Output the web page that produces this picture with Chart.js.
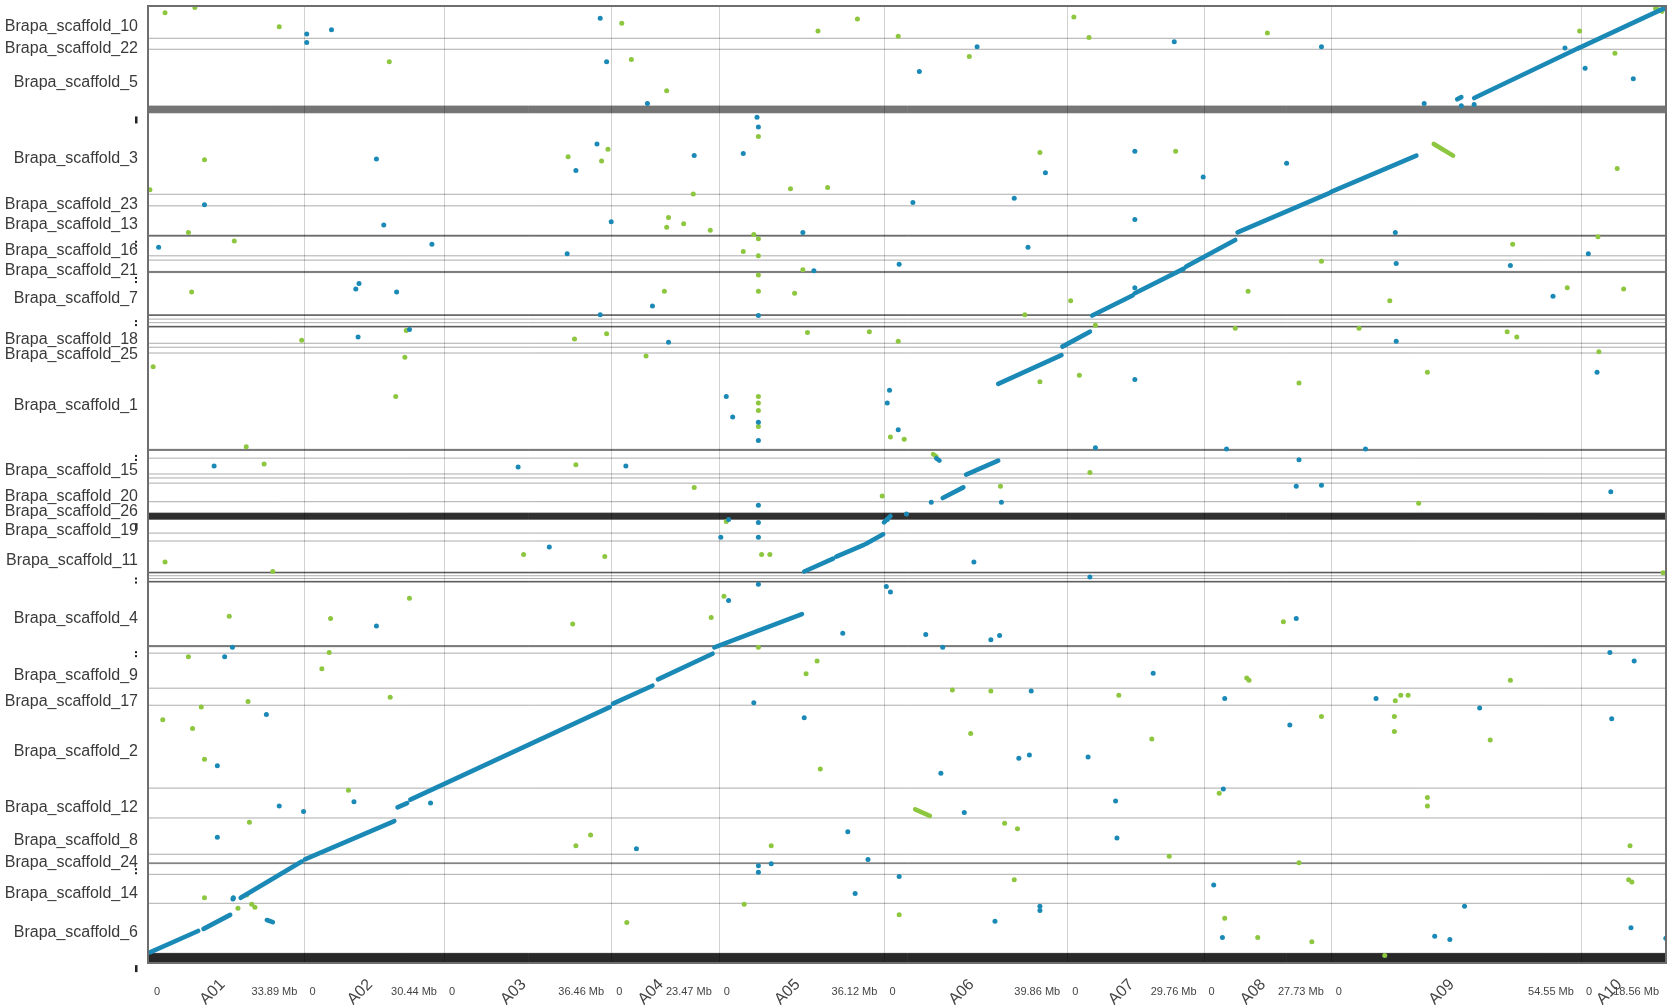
<!DOCTYPE html>
<html><head><meta charset="utf-8">
<script src="https://cdn.jsdelivr.net/npm/chart.js@4.4.1/dist/chart.umd.min.js"></script>
<style>html,body{margin:0;padding:0;background:#fff;overflow:hidden}#wrap{width:1672px;height:1005px;position:relative}</style>
</head><body><div id="wrap"><canvas id="c"></canvas></div>
<script>
// ---- x axis: chromosomes (Mb) ----
const chromNames = ['A01','A02','A03','A04','A05','A06','A07','A08','A09','A10'];
const chromLengths = [33.89,30.44,36.46,23.47,36.12,39.86,29.76,27.73,54.55,18.56];
const chromEndLabels = ['33.89 Mb','30.44 Mb','36.46 Mb','23.47 Mb','36.12 Mb','39.86 Mb','29.76 Mb','27.73 Mb','54.55 Mb','18.56 Mb'];

// ---- y axis: scaffolds, top to bottom (Mb); pieces>1 = cluster of tiny scaffolds ----
const scaffoldNames = ['Brapa_scaffold_10','Brapa_scaffold_22','Brapa_scaffold_5','','Brapa_scaffold_3','Brapa_scaffold_23','Brapa_scaffold_13','','Brapa_scaffold_16','','Brapa_scaffold_21','','Brapa_scaffold_7','','','','Brapa_scaffold_18','','Brapa_scaffold_25','Brapa_scaffold_1','','','Brapa_scaffold_15','','','Brapa_scaffold_20','Brapa_scaffold_26','','Brapa_scaffold_19','','Brapa_scaffold_11','','','','Brapa_scaffold_4','','','Brapa_scaffold_9','Brapa_scaffold_17','Brapa_scaffold_2','Brapa_scaffold_12','Brapa_scaffold_8','Brapa_scaffold_24','','','Brapa_scaffold_14','Brapa_scaffold_6',''];
const scaffoldLengths = [10.6,3.6,18.6,2.3,26.7,3.8,9.6,0.4,6.4,1.4,3.7,0.4,13.8,0.3,3.5,0.3,5.3,1.3,1.9,31.6,0.4,2.5,5.2,1.3,1.7,6.1,3.7,2.1,4.5,2.6,10.2,0.3,2.7,0.3,20.8,0.4,2.1,11.5,5.6,27.2,9.8,11.9,2.8,0.3,3.5,9.5,16.4,3.2];
const scaffoldPieces = [1,1,1,15,1,1,1,3,1,1,1,3,1,3,3,3,1,1,1,1,3,1,1,1,1,1,1,30,1,1,1,3,3,3,1,3,1,1,1,1,1,1,1,2,1,1,1,50];

// ---- synteny blocks (x Mb, y Mb) ----
const diagBlue = [
 [0.2,310.6,10.7,303.6],[11.9,302.9,17.7,298.3],[20.0,292.7,33.3,280.8],[25.7,300.0,27.0,300.7],
 [34.0,280.1,53.5,267.5],[54.2,263.0,56.3,261.6],[57.0,260.5,100.5,230.1],[101.2,229.0,109.8,223.1],
 [111.0,221.0,122.9,212.6],[123.3,210.5,142.4,199.6],[142.9,185.6,149.2,181.4],[149.9,180.7,155.9,176.9],
 [156.4,176.5,160.1,173.4],[160.3,169.5,161.7,167.4],[171.7,148.5,172.4,149.2],[173.1,161.5,177.6,158.0],
 [178.2,153.8,185.2,149.2],[185.2,124.0,199.0,114.6],[199.2,111.8,205.2,106.9],[205.7,101.6,214.5,95.0],
 [215.0,94.3,225.7,86.2],[226.2,85.5,236.9,76.8],[237.4,74.3,257.4,61.4],[257.8,61.0,276.4,49.1],
 [285.3,30.6,286.2,29.9],[289.0,30.2,311.8,13.8],[311.8,13.8,330.4,0.8]
];
const diagGreen = [[280.2,45.3,284.4,49.1],[171.0,147.1,171.7,147.8],[328.6,0.8,330.0,1.8],[167.1,263.7,170.3,265.8]];

const dotsBlue = [
 [34.4,9.2],[34.4,12.0],[39.8,7.8],[98.4,4.0],[99.8,18.3],[108.7,32.0],[168.0,21.5],[180.6,13.4],[223.6,11.7],[255.7,13.4],
 [278.1,32.0],[286.2,32.7],[289.0,32.3],[308.8,13.8],[313.2,20.4],[323.7,23.9],[330.4,0.8],
 [132.6,36.5],[132.9,39.7],[97.7,45.3],[93.1,54.0],[118.9,49.1],[129.6,48.4],[49.6,50.2],[195.5,54.7],[215.0,47.7],
 [229.9,56.1],[248.1,51.6],[166.6,64.5],[188.7,63.1],[12.1,65.2],
 [51.2,71.9],[100.8,70.8],[215.0,70.1],[2.1,79.2],[61.7,78.2],[91.2,81.3],[142.6,74.3],[191.7,79.2],[271.8,74.3],[313.9,81.3],
 [163.6,84.8],[145.0,86.9],[272.0,84.5],[296.9,85.2],
 [45.8,91.1],[45.1,92.9],[54.0,93.9],[109.8,98.5],[215.0,92.5],[306.2,95.3],[98.4,101.3],[132.9,101.6],
 [45.6,108.6],[56.8,106.2],[113.3,110.4],[272.0,110.0],
 [315.8,120.2],[215.0,122.6],[161.5,126.1],[125.9,128.2],[132.9,136.6],[127.3,134.9],[161.0,130.3],[163.4,139.1],[132.9,142.6],
 [206.4,145.0],[235.0,145.4],[265.3,145.4],
 [14.2,151.0],[80.5,151.3],[104.0,151.0],[250.8,148.9],[250.2,157.6],[255.7,157.3],[185.9,162.9],[170.6,162.9],[318.8,159.4],[132.9,163.9],
 [132.9,169.5],[126.4,168.5],[165.2,166.7],[161.0,168.5],[124.7,174.4],[132.9,174.4],[87.3,177.6],[179.9,182.5],[205.2,187.4],
 [132.9,189.8],[160.8,190.5],[161.7,192.3],[126.4,195.1],[49.6,203.5],[151.3,205.9],[169.4,206.3],[183.6,208.0],[185.5,206.6],
 [250.2,201.0],[318.6,212.2],[173.1,210.5],[18.2,210.5],[16.5,213.6],
 [219.0,219.0],[323.9,215.0],[192.4,224.8],[234.6,227.3],[267.6,227.3],[25.6,232.5],[131.9,228.7],
 [14.9,249.4],[142.9,233.6],[290.2,230.4],[319.0,233.9],[248.8,236.0],[172.7,251.8],[189.7,246.9],[192.0,245.8],[204.8,246.5],
 [44.7,261.2],[28.4,262.6],[33.7,264.4],[61.4,261.6],[177.8,264.7],[210.8,260.9],[234.3,257.0],
 [14.9,272.8],[106.3,276.6],[152.4,271.0],[156.8,280.1],[211.1,273.1],
 [132.9,282.2],[132.9,284.3],[135.7,281.5],[154.0,291.3],[163.6,285.7],[232.2,288.5],[18.4,292.7],[18.3,293.1],
 [194.3,295.5],[194.3,296.9],[286.9,295.5],
 [184.5,300.4],[234.1,305.7],[280.4,305.3],[283.7,306.4],[330.8,306.0],[323.2,302.5]
];
const dotsGreen = [
 [3.5,2.2],[10.0,0.5],[28.4,6.8],[52.4,18.3],[103.1,5.7],[105.2,17.6],[112.9,27.8],[145.9,8.2],[154.5,4.3],[163.4,9.9],
 [178.9,16.6],[201.7,3.6],[205.0,10.3],[243.9,8.9],[312.0,8.2],[319.7,15.5],[328.6,0.8],[329.7,1.5],
 [132.9,42.8],[100.1,47.0],[91.4,49.5],[98.7,50.9],[12.1,50.5],[194.3,48.1],[223.9,47.7],[320.2,53.3],[139.9,60.0],[148.0,59.6],
 [118.7,61.7],[0.2,60.3],
 [113.3,69.4],[112.9,72.6],[116.6,71.5],[122.4,73.6],[8.6,74.3],[18.6,77.1],[129.6,80.6],[131.9,75.0],[132.9,76.4],[316.0,75.7],
 [132.9,82.0],[142.6,86.6],[297.4,78.2],[255.7,83.8],[132.9,88.3],
 [9.3,93.9],[112.4,93.6],[132.9,93.6],[140.8,94.3],[239.7,93.6],[309.3,92.5],[321.6,92.9],[270.6,96.7],[191.0,101.3],[201.0,96.7],
 [33.3,109.7],[56.1,106.5],[92.8,109.3],[99.8,107.6],[143.6,107.2],[157.1,106.9],[163.4,110.0],[206.4,104.8],[236.9,105.8],
 [263.9,105.8],[296.2,106.9],[298.3,108.6],[316.2,113.5],[0.9,118.4],[55.8,115.3],[108.4,114.9],
 [278.8,120.2],[250.8,123.7],[202.9,121.2],[194.3,123.3],[132.9,128.2],[132.9,130.3],[132.9,132.8],[132.9,138.0],[53.8,128.2],
 [161.7,141.5],[164.7,142.2],[21.2,144.7],
 [25.1,150.3],[93.1,150.6],[205.2,153.1],[118.9,158.0],[159.9,160.8],[185.7,157.6],[276.9,163.2],[125.9,169.2],
 [3.5,182.5],[27.0,185.6],[81.7,180.0],[99.4,180.7],[133.6,180.0],[135.4,180.0],[330.2,186.0],
 [125.4,193.7],[17.5,200.3],[39.6,201.0],[56.8,194.4],[92.4,202.8],[122.6,200.7],[247.4,202.1],[8.6,213.6],[39.3,212.2],[132.9,210.5],
 [145.7,215.0],[143.3,219.2],[239.4,220.6],[239.9,221.3],[296.9,221.3],[175.2,224.5],[183.6,224.8],[211.5,226.2],[273.0,226.2],
 [274.6,226.2],[271.8,228.0],[37.7,217.5],[52.6,226.9],[11.4,230.1],[21.6,228.3],[3.0,234.3],
 [9.5,237.1],[12.1,247.2],[255.7,233.2],[271.6,233.2],[271.6,238.1],[292.5,240.9],[179.2,238.8],[218.7,240.6],[146.4,250.4],
 [43.5,257.4],[233.4,258.4],[278.8,259.8],[278.8,262.6],[186.6,268.2],[189.4,270.0],
 [21.9,267.9],[96.3,272.1],[93.1,275.6],[135.7,275.6],[222.5,279.1],[250.8,281.2],[323.0,275.6],
 [188.7,286.8],[322.7,286.8],[323.4,287.5],[12.1,292.7],[129.8,294.8],[21.3,291.8],[19.4,296.1],[22.4,294.8],[23.1,295.8],
 [104.2,300.8],[163.6,298.3],[234.6,299.4],[241.8,305.7],[253.6,307.1],[269.5,311.6]
];

const BLUE = '#1a89b6', GREEN = '#8dc63f';
const xTotal = chromLengths.reduce((a,b)=>a+b,0);
const yTotal = scaffoldLengths.reduce((a,b)=>a+b,0);

const datasets = [];
diagBlue.forEach(s => datasets.push({data:[{x:s[0],y:s[1]},{x:s[2],y:s[3]}], showLine:true, borderColor:BLUE, borderWidth:4.6, borderCapStyle:'round', pointRadius:0}));
diagGreen.forEach(s => datasets.push({data:[{x:s[0],y:s[1]},{x:s[2],y:s[3]}], showLine:true, borderColor:GREEN, borderWidth:4.6, borderCapStyle:'round', pointRadius:0}));
datasets.push({data: dotsBlue.map(p=>({x:p[0],y:p[1]})), backgroundColor:BLUE, borderWidth:0, pointRadius:2.5});
datasets.push({data: dotsGreen.map(p=>({x:p[0],y:p[1]})), backgroundColor:GREEN, borderWidth:0, pointRadius:2.5});

const framePlugin = {
  id:'frame',
  beforeDatasetsDraw(chart){
    const ctx = chart.ctx, xs = chart.scales.x, ys = chart.scales.y, a = chart.chartArea;
    ctx.save();
    ctx.strokeStyle = '#d2d2d2'; ctx.lineWidth = 1;
    let cum = 0;
    chromLengths.forEach((L,i)=>{ cum += L; if(i<chromLengths.length-1){ const px = Math.round(xs.getPixelForValue(cum))+0.5; ctx.beginPath(); ctx.moveTo(px,a.top); ctx.lineTo(px,a.bottom); ctx.stroke(); }});
    ctx.strokeStyle = 'rgba(0,0,0,0.33)';
    let c = 0;
    scaffoldLengths.forEach((L,i)=>{
      const n = scaffoldPieces[i];
      for(let k=0;k<n;k++){
        c += L/n;
        const py = ys.getPixelForValue(c);
        ctx.beginPath(); ctx.moveTo(a.left,py); ctx.lineTo(a.right,py); ctx.stroke();
      }
    });
    ctx.restore();
  },
  afterDraw(chart){
    const ctx = chart.ctx, xs = chart.scales.x, ys = chart.scales.y, a = chart.chartArea;
    ctx.save();
    ctx.strokeStyle = '#6e6e6e'; ctx.lineWidth = 2;
    ctx.strokeRect(a.left-1, a.top, a.right-a.left+1, a.bottom-a.top);
    ctx.font = '16px "Liberation Sans", Arial, sans-serif';
    ctx.textAlign = 'right'; ctx.textBaseline = 'middle';
    let c = 0;
    scaffoldLengths.forEach((L,i)=>{
      const mid = c + L/2; c += L;
      const py = ys.getPixelForValue(mid);
      if(scaffoldNames[i]){ ctx.fillStyle = '#3a3a3a'; ctx.fillText(scaffoldNames[i], a.left-11, py+4.5); }
      else if(scaffoldPieces[i] > 1 && !(i>0 && !scaffoldNames[i-1] && scaffoldPieces[i-1] > 1)){
        ctx.fillStyle = '#222';
        if(scaffoldPieces[i] >= 14){ ctx.fillRect(a.left-14, py+7, 2.5, 7); }
        else { ctx.fillRect(a.left-14, py+5, 2, 2); ctx.fillRect(a.left-14, py+9, 2, 2); }
      }
    });
    let cum = 0;
    chromLengths.forEach((L,i)=>{
      const x0 = xs.getPixelForValue(cum), x1 = xs.getPixelForValue(cum+L), xm = (x0+x1)/2;
      cum += L;
      ctx.fillStyle = '#444'; ctx.font = '11px "Liberation Sans", Arial, sans-serif';
      ctx.textBaseline = 'middle';
      ctx.textAlign = 'left'; ctx.fillText('0', x0+5, 992);
      ctx.textAlign = 'right'; ctx.fillText(chromEndLabels[i], x1-7, 992);
      ctx.save();
      ctx.translate(xm-4, 982); ctx.rotate(-Math.PI/4);
      ctx.font = '16px "Liberation Sans", Arial, sans-serif'; ctx.fillStyle = '#444';
      ctx.textAlign = 'right'; ctx.textBaseline = 'middle';
      ctx.fillText(chromNames[i], 0, 0);
      ctx.restore();
    });
    ctx.restore();
  }
};

new Chart(document.getElementById('c'), {
  type:'scatter',
  data:{datasets},
  options:{
    responsive:true, maintainAspectRatio:false, animation:false,
    layout:{padding:{left:149, top:6, right:6, bottom:42}},
    plugins:{legend:{display:false}, tooltip:{enabled:false}},
    events:[],
    scales:{
      x:{type:'linear', min:0, max:xTotal, display:false},
      y:{type:'linear', min:0, max:yTotal, reverse:true, display:false}
    }
  },
  plugins:[framePlugin]
});
</script>
</body></html>
